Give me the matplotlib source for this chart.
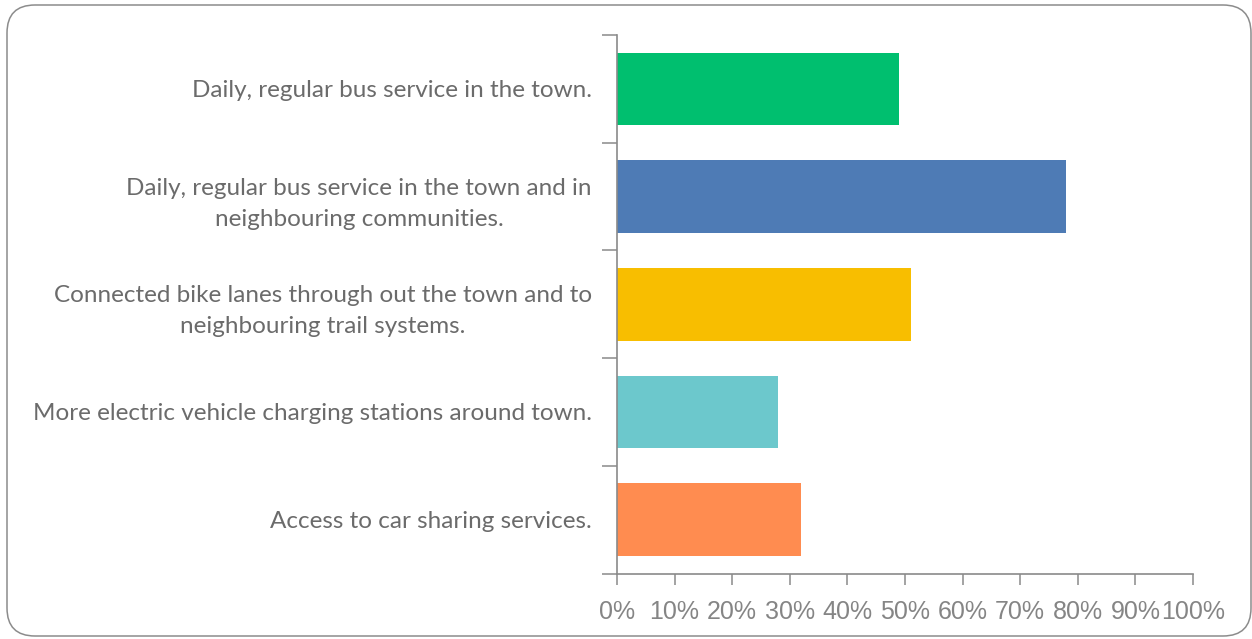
import matplotlib
matplotlib.use("Agg")
import matplotlib.pyplot as plt
from matplotlib.patches import FancyBboxPatch
from matplotlib.transforms import IdentityTransform
from matplotlib.ticker import FixedLocator, PercentFormatter

categories = [
    "Daily, regular bus service in the town.",
    "Daily, regular bus service in the town and in\nneighbouring communities.",
    "Connected bike lanes through out the town and to\nneighbouring trail systems.",
    "More electric vehicle charging stations around town.",
    "Access to car sharing services.",
]
values = [49, 78, 51, 28, 32]
colors = ["#00BF6F", "#4E7BB5", "#F8BE00", "#6CC8CC", "#FF8C50"]
x_ticks = list(range(0, 101, 10))

W, H = 1252, 639
fig = plt.figure(figsize=(W / 100, H / 100), dpi=100)

# rounded frame around the whole chart (pixel coordinates, origin bottom-left)
frame = FancyBboxPatch((7, 3), 1251 - 7, 634 - 3,
                       boxstyle="round,pad=0,rounding_size=28",
                       transform=IdentityTransform(), facecolor="none",
                       edgecolor="#8c8c8c", linewidth=1.1, zorder=-1)
fig.patches.append(frame)

ax = fig.add_axes([617 / W, 1 - 573.5 / H, (1193 - 617) / W, (573.5 - 35) / H])
ax.patch.set_alpha(0)

ypos = list(range(len(categories)))
ax.barh(ypos, values, height=0.675, color=colors)
ax.set_ylim(len(categories) - 0.5, -0.5)
ax.set_xlim(0, 100)

grey = "#8a8a8a"
for side in ("top", "right"):
    ax.spines[side].set_visible(False)
for side in ("left", "bottom"):
    ax.spines[side].set_color(grey)
    ax.spines[side].set_linewidth(1.2)

ax.set_xticks(x_ticks)
ax.xaxis.set_major_formatter(PercentFormatter(decimals=0))
ax.tick_params(axis="x", length=8, width=1.1, color=grey, pad=11,
               labelsize=18, labelcolor="#858585")
for lab in ax.get_xticklabels():
    lab.set_fontfamily("Liberation Sans")

ax.set_yticks(ypos)
ax.set_yticklabels(categories)
ax.yaxis.set_minor_locator(FixedLocator([i - 0.5 for i in range(len(categories) + 1)]))
ax.tick_params(axis="y", which="major", length=0, pad=18, labelsize=17.5,
               labelcolor="#6b6b6b")
ax.tick_params(axis="y", which="minor", length=11, width=1.1, color=grey)
for lab in ax.get_yticklabels():
    lab.set_fontfamily("Lato")
    lab.set_multialignment("center")
    lab.set_linespacing(1.6)

fig.savefig("out.png", dpi=100)
